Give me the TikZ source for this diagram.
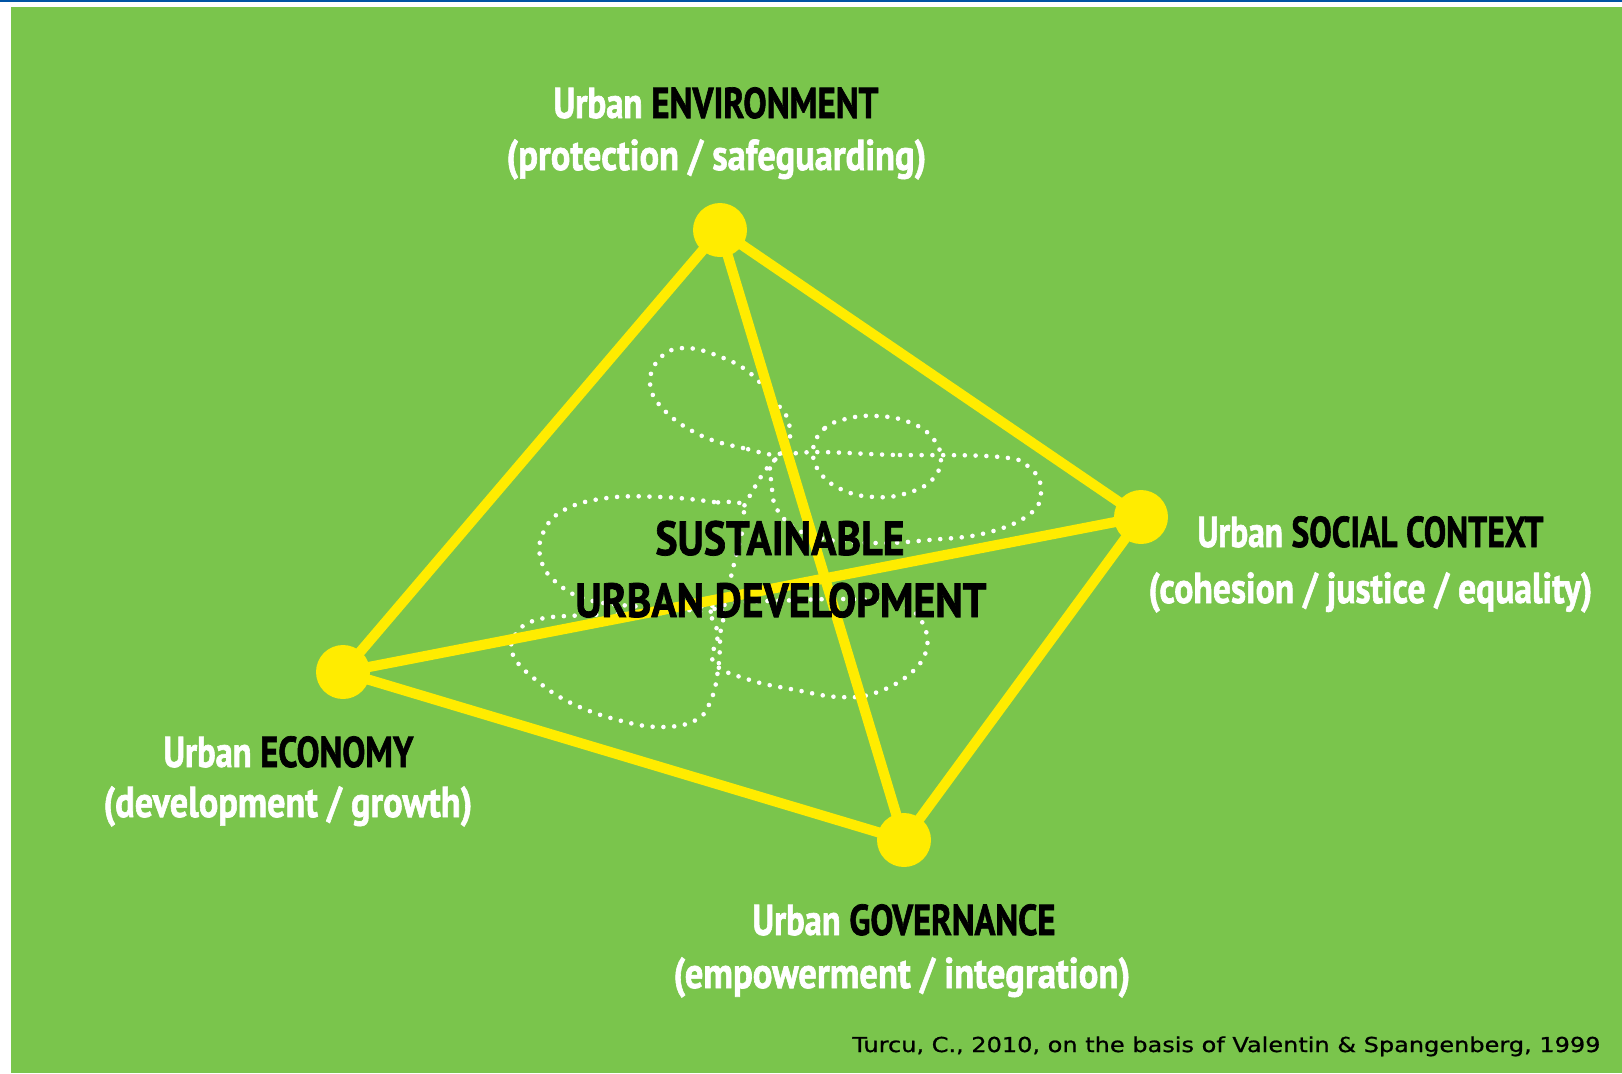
\documentclass[tikz,border=0pt]{standalone}
\usepackage{fontspec}
\usepackage{graphicx}
\setmainfont{PT Sans}[BoldFeatures={FakeBold=1.6}]
\newfontfamily\credfont{DejaVu Sans}[FakeBold=0.8]
\definecolor{bggreen}{RGB}{122,197,76}
\definecolor{topblue}{RGB}{0,84,164}
\definecolor{lineyellow}{RGB}{255,236,0}
\newcommand{\fitw}[2]{\resizebox{#1}{\height}{#2}}
\tikzset{
  vertex/.style={circle, fill=lineyellow, minimum size=27pt, inner sep=0pt},
  edge/.style={draw=lineyellow, line width=5.1pt, shorten <=-1pt, shorten >=-1pt},
  dots/.style={draw=white, line width=2.3pt, line cap=round, dash pattern=on 0pt off 5.4pt},
  lbl/.style={inner sep=0pt, anchor=base west, font=\fontsize{21.6}{24}\selectfont\bfseries},
  ctr/.style={inner sep=0pt, anchor=base west, font=\fontsize{24}{26}\selectfont\bfseries},
  cred/.style={inner sep=0pt, anchor=base west, font=\credfont\fontsize{10.3}{12}\selectfont}
}
\begin{document}
\begin{tikzpicture}[x=0.5pt, y=-0.5pt]
\useasboundingbox (0,0) rectangle (1622,1073);
\fill[white] (0,0) rectangle (1622,1073);
\fill[topblue] (0,0) rectangle (1622,2);
\fill[bggreen] (11,7) rectangle (1622,1073);

% dotted petals
\draw[dots] plot[smooth cycle, tension=0.7] coordinates {(782,453) (743,448) (700,435) (664,410) (650,383) (661,357) (686,348) (721,357) (750,373) (771,397) (789,423)};
\draw[dots] plot[smooth cycle, tension=0.7] coordinates {(813,450) (825,428) (850,418) (877,416) (906,421) (930,435) (941,458) (931,481) (904,494) (875,497) (845,491) (821,474)};
\draw[dots] plot[smooth cycle, tension=0.7] coordinates {(786,455) (900,455) (1000,457) (1030,468) (1041,490) (1030,514) (986,533) (929,540) (875,543) (820,538) (785,520) (772,488)};
\draw[dots] plot[smooth] coordinates {(782,453) (764,472) (743,508)};
\draw[dots] plot[smooth cycle, tension=0.7] coordinates {(743,508) (714,502) (661,497) (607,498) (564,510) (543,533) (541,560) (557,583) (589,600) (643,607) (686,610) (718,607) (735,560)};
\draw[dots] plot[smooth cycle, tension=0.7] coordinates {(718,607) (661,613) (589,615) (536,620) (514,637) (514,657) (536,680) (571,703) (618,720) (661,727) (696,720) (711,700) (718,670) (720,637)};
\draw[dots] plot[smooth cycle, tension=0.7] coordinates {(718,607) (800,600) (870,600) (904,607) (921,620) (927,647) (911,673) (875,693) (839,697) (796,690) (750,680) (714,663) (718,635)};

% vertices
\node[vertex] (env) at (720,230) {};
\node[vertex] (soc) at (1141,517) {};
\node[vertex] (eco) at (343,672) {};
\node[vertex] (gov) at (904,840) {};

% edges
\draw[edge] (env) -- (eco);
\draw[edge] (env) -- (soc);
\draw[edge] (env) -- (gov);
\draw[edge] (eco) -- (soc);
\draw[edge] (eco) -- (gov);
\draw[edge] (soc) -- (gov);

% labels
\node[lbl] (envA) at (553,118) {\fitw{162.5pt}{\color{white}Urban \color{black}ENVIRONMENT}};
\node[lbl] (envB) at (506,170) {\fitw{210pt}{\color{white}(protection / safeguarding)}};
\node[lbl] (socA) at (1197,547) {\fitw{173pt}{\color{white}Urban \color{black}SOCIAL CONTEXT}};
\node[lbl] (socB) at (1148,603) {\fitw{222pt}{\color{white}(cohesion / justice / equality)}};
\node[lbl] (ecoA) at (163,767) {\fitw{125pt}{\color{white}Urban \color{black}ECONOMY}};
\node[lbl] (ecoB) at (103,817) {\fitw{184.5pt}{\color{white}(development / growth)}};
\node[lbl] (govA) at (752,935) {\fitw{151.5pt}{\color{white}Urban \color{black}GOVERNANCE}};
\node[lbl] (govB) at (673,988) {\fitw{228.5pt}{\color{white}(empowerment / integration)}};
\node[ctr] (sudA) at (655,555) {\fitw{124.5pt}{\color{black}SUSTAINABLE}};
\node[ctr] (sudB) at (575,617) {\fitw{205.5pt}{\color{black}URBAN DEVELOPMENT}};
\node[cred] (credit) at (852,1052) {\fitw{374pt}{\color{black}Turcu, C., 2010, on the basis of Valentin \& Spangenberg, 1999}};
\end{tikzpicture}
\end{document}
